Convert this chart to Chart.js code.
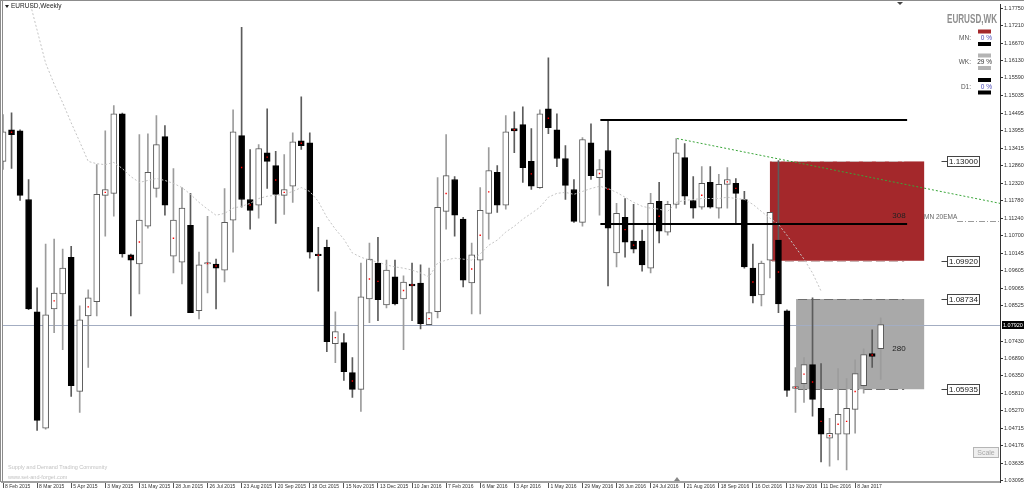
<!DOCTYPE html>
<html><head><meta charset="utf-8">
<script src="https://cdn.jsdelivr.net/npm/chart.js@4.4.1/dist/chart.umd.min.js"></script>
<style>html,body{margin:0;padding:0;background:#fff;overflow:hidden}#wrap{position:relative;width:1024px;height:494px}</style>
</head><body><div id="wrap"><canvas id="c"></canvas></div>
<script>
// ---- data (weekly EURUSD, bar index 0 = week of 8 Feb 2015) ----
const dateLabels = ['8 Feb 2015','8 Mar 2015','5 Apr 2015','3 May 2015','31 May 2015','28 Jun 2015','26 Jul 2015','23 Aug 2015','20 Sep 2015','18 Oct 2015','15 Nov 2015','13 Dec 2015','10 Jan 2016','7 Feb 2016','6 Mar 2016','3 Apr 2016','1 May 2016','29 May 2016','26 Jun 2016','24 Jul 2016','21 Aug 2016','18 Sep 2016','16 Oct 2016','13 Nov 2016','11 Dec 2016','8 Jan 2017'];
const open  = [1.1300,1.1398,1.1395,1.1182,1.0834,1.0473,1.0843,1.0889,1.1003,1.0587,1.0821,1.0865,1.1195,1.1201,1.1448,1.1010,1.0982,1.1099,1.1216,1.1377,1.1006,1.0988,1.1102,1.0837,1.0982,1.0982,1.0963,1.1118,1.1380,1.1182,1.1164,1.1327,1.1287,1.1195,1.1223,1.1364,1.1358,1.1010,1.1034,1.0735,1.0738,1.0645,1.0593,1.0874,1.0985,1.0855,1.0942,1.0874,1.0920,1.0923,1.0794,1.0834,1.1145,1.1244,1.1121,1.0923,1.0994,1.1139,1.1266,1.1164,1.1402,1.1414,1.1300,1.1219,1.1463,1.1398,1.1309,1.1213,1.1111,1.1358,1.1250,1.1334,1.1016,1.1127,1.1053,1.1053,1.0969,1.1176,1.1081,1.1167,1.1312,1.1179,1.1158,1.1235,1.1155,1.1229,1.1232,1.1182,1.0969,1.0886,1.0994,1.1056,1.0837,1.0596,1.0611,1.0670,1.0534,1.0442,1.0454,1.0454,1.0531,1.0605,1.0704,1.0719];
const high  = [1.1445,1.1451,1.1398,1.1244,1.0908,1.1044,1.1059,1.1028,1.1037,1.0852,1.0902,1.1290,1.1395,1.1473,1.1450,1.1013,1.1383,1.1386,1.1442,1.1411,1.1278,1.1219,1.1201,1.1019,1.1130,1.0997,1.1216,1.1460,1.1716,1.1337,1.1352,1.1463,1.1331,1.1321,1.1389,1.1500,1.1389,1.1096,1.1056,1.0834,1.0766,1.0692,1.0985,1.1047,1.1065,1.0994,1.0994,1.0945,1.0985,1.0979,1.0969,1.1250,1.1383,1.1253,1.1127,1.1047,1.1219,1.1343,1.1287,1.1442,1.1454,1.1469,1.1402,1.1460,1.1621,1.1448,1.1349,1.1244,1.1374,1.1417,1.1306,1.1429,1.1170,1.1185,1.1167,1.1087,1.1201,1.1235,1.1176,1.1371,1.1355,1.1253,1.1284,1.1284,1.1260,1.1281,1.1247,1.1207,1.1044,1.0991,1.1142,1.1303,1.0840,1.0661,1.0692,1.0877,1.0673,1.0503,1.0658,1.0627,1.0685,1.0719,1.0778,1.0815];
const low   = [1.1275,1.1278,1.1179,1.0840,1.0466,1.0470,1.0769,1.0716,1.0571,1.0522,1.0661,1.0821,1.1068,1.1130,1.1003,1.0821,1.0889,1.1093,1.1189,1.1133,1.0954,1.0920,1.0831,1.0812,1.0892,1.0843,1.0926,1.1019,1.1158,1.1090,1.1124,1.1216,1.1108,1.1136,1.1173,1.1337,1.1000,1.0898,1.0710,1.0676,1.0621,1.0568,1.0525,1.0800,1.0806,1.0846,1.0855,1.0716,1.0806,1.0781,1.0794,1.0815,1.1090,1.1068,1.0911,1.0827,1.0827,1.1059,1.1142,1.1152,1.1327,1.1235,1.1213,1.1216,1.1386,1.1284,1.1182,1.1111,1.1099,1.1244,1.1133,1.0914,1.0973,1.1003,1.1016,1.0960,1.0954,1.1047,1.1071,1.1155,1.1167,1.1124,1.1152,1.1155,1.1124,1.1155,1.1105,1.0969,1.0861,1.0852,1.0939,1.0831,1.0571,1.0522,1.0553,1.0510,1.0368,1.0355,1.0374,1.0343,1.0457,1.0581,1.0661,1.0624];
const close = [1.1392,1.1383,1.1195,1.0843,1.0497,1.0824,1.0892,1.0969,1.0605,1.0809,1.0877,1.1198,1.1213,1.1448,1.1013,1.0994,1.1118,1.1266,1.1352,1.1164,1.1118,1.1155,1.0831,1.0979,1.0985,1.0969,1.1111,1.1392,1.1182,1.1148,1.1340,1.1300,1.1198,1.1213,1.1361,1.1349,1.1019,1.1008,1.0741,1.0772,1.0648,1.0593,1.0880,1.0997,1.0871,1.0963,1.0858,1.0926,1.0914,1.0797,1.0831,1.1158,1.1256,1.1133,1.0932,1.1010,1.1148,1.1272,1.1164,1.1392,1.1395,1.1281,1.1223,1.1448,1.1405,1.1309,1.1226,1.1114,1.1368,1.1256,1.1275,1.1093,1.1139,1.1050,1.1028,1.0979,1.1170,1.1084,1.1167,1.1327,1.1192,1.1155,1.1232,1.1158,1.1229,1.1244,1.1201,1.0973,1.0883,1.0985,1.1142,1.0858,1.0590,1.0602,1.0670,1.0562,1.0454,1.0457,1.0516,1.0534,1.0642,1.0701,1.0695,1.0794];
const ema20 = [1.2133,1.2025,1.1917,1.1809,1.1707,1.1605,1.1540,1.1482,1.1420,1.1361,1.1300,1.1293,1.1290,1.1297,1.1278,1.1253,1.1235,1.1241,1.1247,1.1241,1.1232,1.1219,1.1198,1.1173,1.1152,1.1133,1.1139,1.1155,1.1161,1.1170,1.1185,1.1192,1.1195,1.1198,1.1207,1.1219,1.1207,1.1176,1.1127,1.1090,1.1059,1.1016,1.1003,1.0994,1.0988,1.0979,1.0973,1.0969,1.0963,1.0954,1.0942,1.0985,1.0994,1.1000,1.0997,1.0994,1.1013,1.1040,1.1056,1.1081,1.1099,1.1121,1.1139,1.1158,1.1189,1.1201,1.1204,1.1198,1.1207,1.1216,1.1223,1.1216,1.1204,1.1189,1.1173,1.1161,1.1155,1.1152,1.1145,1.1173,1.1179,1.1182,1.1185,1.1185,1.1185,1.1189,1.1185,1.1182,1.1167,1.1145,1.1124,1.1105,1.1071,1.1034,1.0997,1.0954,1.0898];
const markBars = [1,6,10,12,15,16,20,24,25,28,29,31,32,33,35,37,39,41,43,44,47,48,50,52,55,56,57,60,62,64,70,71,73,74,77,82,85,86,88,91,93,94,95,96,97,98,99,100,102];
const priceTicks = [1.17750,1.17210,1.16670,1.16130,1.15590,1.15035,1.14495,1.13955,1.13415,1.12860,1.12320,1.11780,1.11240,1.10700,1.10145,1.09605,1.09065,1.08525,1.07430,1.06890,1.06350,1.05810,1.05270,1.04715,1.04176,1.03635,1.03095];
const zoneStart  = [90.0, 93.07];
const zoneEnd    = [108.1, 108.1];
const zoneTop    = [1.13000, 1.08734];
const zoneBottom = [1.09920, 1.05935];
const zoneNotes  = ['308', '280'];
const levelPrices = [1.1429, 1.1105];
const levelFrom = 70.1, levelTo = 106.1;
const trendFrom = [79.1, 1.1371], trendTo = [117.0, 1.1170];
const emaLevel = 1.1114;
const currentPrice = 1.07920;
const legendRows = ['MN:', 'WK:', 'D1:'];
const legendPct  = ['0 %', '29 %', '0 %'];

// ---- chart ----
const X_MIN = -0.12, X_MAX = 117.0, Y_MIN = 1.03059, Y_MAX = 1.17873;
const idx = open.map((_, i) => i);
const bull = i => close[i] >= open[i];
const FONT = 'Liberation Sans, Arial, sans-serif';

const overlay = {
  id: 'overlay',
  beforeDatasetsDraw(chart) {
    const {ctx, chartArea: a, scales: {x, y}} = chart;
    ctx.save();
    ctx.beginPath(); ctx.rect(a.left, a.top, a.right - a.left, a.bottom - a.top); ctx.clip();
    zoneTop.forEach((t, k) => {
      const x0 = x.getPixelForValue(zoneStart[k]), x1 = x.getPixelForValue(zoneEnd[k]);
      const y0 = y.getPixelForValue(t), y1 = y.getPixelForValue(zoneBottom[k]);
      ctx.fillStyle = k === 0 ? '#a4282b' : '#a9a9a9';
      ctx.fillRect(x0, y0, x1 - x0, y1 - y0);
      ctx.strokeStyle = k === 0 ? '#c9b5b5' : '#6e6e6e';
      ctx.lineWidth = 1; ctx.setLineDash([9, 4]);
      [y0, y1].forEach(yy => { ctx.beginPath(); ctx.moveTo(x0 + 2, Math.round(yy) + 0.5); ctx.lineTo(x1 - 20, Math.round(yy) + 0.5); ctx.stroke(); });
      ctx.setLineDash([]);
    });
    // current price line
    const cp = Math.round(y.getPixelForValue(currentPrice)) + 0.5;
    ctx.strokeStyle = '#a3adc2'; ctx.lineWidth = 1;
    ctx.beginPath(); ctx.moveTo(a.left, cp); ctx.lineTo(a.right, cp); ctx.stroke();
    ctx.restore();
  },
  afterDatasetsDraw(chart) {
    const {ctx, chartArea: a, scales: {x, y}} = chart;
    ctx.save();
    ctx.beginPath(); ctx.rect(a.left, a.top, a.right - a.left, a.bottom - a.top); ctx.clip();
    // horizontal levels
    ctx.strokeStyle = '#000'; ctx.lineWidth = 2;
    levelPrices.forEach(p => {
      const yy = Math.round(y.getPixelForValue(p));
      ctx.beginPath(); ctx.moveTo(x.getPixelForValue(levelFrom), yy); ctx.lineTo(x.getPixelForValue(levelTo), yy); ctx.stroke();
    });
    // trend line
    ctx.strokeStyle = '#3aa53a'; ctx.lineWidth = 1; ctx.setLineDash([2, 2]);
    ctx.beginPath(); ctx.moveTo(x.getPixelForValue(trendFrom[0]), y.getPixelForValue(trendFrom[1]));
    ctx.lineTo(x.getPixelForValue(trendTo[0]), y.getPixelForValue(trendTo[1])); ctx.stroke();
    // MN 20EMA marker
    const ey = Math.round(y.getPixelForValue(emaLevel)) + 0.5;
    ctx.strokeStyle = '#9a9a9a'; ctx.setLineDash([6, 2, 1, 2]);
    ctx.beginPath(); ctx.moveTo(957, ey); ctx.lineTo(a.right, ey); ctx.stroke();
    ctx.setLineDash([]);
    ctx.fillStyle = '#666'; ctx.font = '6.5px ' + FONT; ctx.textBaseline = 'middle'; ctx.textAlign = 'left';
    ctx.fillText('MN 20EMA', 924, ey - 4);
    // zone notes
    ctx.fillStyle = '#222'; ctx.font = '8px ' + FONT; ctx.textAlign = 'center';
    ctx.fillText(zoneNotes[0], 899, y.getPixelForValue(1.1130));
    ctx.fillText(zoneNotes[1], 899, y.getPixelForValue(1.0719));
    // zone price labels
    const lab = [zoneTop[0], zoneBottom[0], zoneTop[1], zoneBottom[1]];
    lab.forEach(p => {
      const yy = Math.round(y.getPixelForValue(p)) + 0.5;
      ctx.strokeStyle = '#444'; ctx.lineWidth = 1;
      ctx.beginPath(); ctx.moveTo(941.5, yy); ctx.lineTo(947.5, yy); ctx.stroke();
      ctx.fillStyle = '#fff'; ctx.fillRect(947.5, yy - 5, 32, 10);
      ctx.strokeRect(947.5, yy - 5, 32, 10);
      ctx.fillStyle = '#222'; ctx.font = '8px ' + FONT; ctx.textAlign = 'left'; ctx.textBaseline = 'middle';
      ctx.fillText(p.toFixed(5), 949, yy + 0.5);
    });
    ctx.restore();
  },
  afterDraw(chart) {
    const {ctx, chartArea: a, scales: {y}} = chart;
    ctx.save();
    // frame
    ctx.strokeStyle = '#8c8c8c'; ctx.lineWidth = 1;
    ctx.beginPath(); ctx.moveTo(0, 0.5); ctx.lineTo(1024, 0.5); ctx.stroke();
    ctx.beginPath(); ctx.moveTo(0.5, 0); ctx.lineTo(0.5, a.bottom); ctx.stroke();
    ctx.beginPath(); ctx.moveTo(2.5, 0); ctx.lineTo(2.5, a.bottom); ctx.stroke();
    // header
    ctx.fillStyle = '#222';
    ctx.beginPath(); ctx.moveTo(5, 5); ctx.lineTo(9, 5); ctx.lineTo(7, 8); ctx.closePath(); ctx.fill();
    ctx.font = '6.5px ' + FONT; ctx.textBaseline = 'middle'; ctx.textAlign = 'left';
    ctx.fillText('EURUSD,Weekly', 11, 6.5);
    // marker triangles
    ctx.fillStyle = '#444';
    ctx.beginPath(); ctx.moveTo(897, 2); ctx.lineTo(903, 2); ctx.lineTo(900, 5); ctx.closePath(); ctx.fill();
    ctx.fillStyle = '#888';
    ctx.beginPath(); ctx.moveTo(674, 481); ctx.lineTo(680, 481); ctx.lineTo(677, 477); ctx.closePath(); ctx.fill();
    // symbol title
    ctx.font = 'bold 13px ' + FONT; ctx.textBaseline = 'alphabetic';
    const t = 'EURUSD,WK', w = ctx.measureText(t).width;
    ctx.save(); ctx.translate(947, 23); ctx.scale(50 / w, 1);
    ctx.fillStyle = '#8e8e8e'; ctx.fillText(t, 0, 0); ctx.restore();
    // legend
    const rowY = [29.5, 53.5, 78];
    const barCol = [['#a4282b', '#000'], ['#b4b4b4', '#b4b4b4'], ['#000', '#000']];
    rowY.forEach((r, k) => {
      ctx.fillStyle = barCol[k][0]; ctx.fillRect(978, r, 13, 4);
      ctx.fillStyle = barCol[k][1]; ctx.fillRect(978, r + 12.5, 13, 4);
      ctx.font = '6.5px ' + FONT; ctx.textBaseline = 'middle';
      ctx.fillStyle = '#555'; ctx.textAlign = 'right'; ctx.fillText(legendRows[k], 971, r + 9);
      ctx.fillStyle = k === 1 ? '#333' : '#4a48b8'; ctx.textAlign = 'right'; ctx.fillText(legendPct[k], 992, r + 9);
    });
    // watermark
    ctx.fillStyle = '#c2c2c2'; ctx.font = '5.5px ' + FONT; ctx.textAlign = 'left';
    ctx.fillText('Supply and Demand Trading Community', 8, 467);
    ctx.fillText('www.set-and-forget.com', 8, 477);
    // scale button
    ctx.fillStyle = '#efefef'; ctx.fillRect(973.5, 447.5, 25, 10);
    ctx.strokeStyle = '#b5b5b5'; ctx.strokeRect(973.5, 447.5, 25, 10);
    ctx.fillStyle = '#a8a8a8'; ctx.font = '7px ' + FONT; ctx.textAlign = 'center'; ctx.fillText('Scale', 986, 453);
    // current price tag
    const cp = Math.round(y.getPixelForValue(currentPrice));
    ctx.fillStyle = '#000'; ctx.fillRect(a.right + 2, cp - 4, 22, 8);
    ctx.fillStyle = '#fff'; ctx.font = '5.5px ' + FONT; ctx.textAlign = 'left'; ctx.fillText(currentPrice.toFixed(5), a.right + 3, cp + 0.5);
    ctx.restore();
  }
};

new Chart(document.getElementById('c'), {
  type: 'bar',
  data: {
    datasets: [
      { type: 'line', label: 'marks', data: markBars.map(i => ({x: i, y: (open[i] + close[i]) / 2})),
        showLine: false, pointRadius: 1, pointStyle: 'rect', backgroundColor: '#ff0000', borderColor: '#ff0000', borderWidth: 0, order: 0 },
      { type: 'line', label: 'MN 20EMA', data: ema20.map((v, i) => ({x: i, y: v})),
        borderColor: '#c4c4c4', borderWidth: 1, borderDash: [2, 2], pointRadius: 0, fill: false, tension: 0, order: 1 },
      { type: 'bar', label: 'body', data: idx.map(i => ({x: i, y: [open[i], close[i]]})),
        barThickness: 6, minBarLength: 1.5, grouped: false, borderSkipped: false, borderWidth: 1,
        backgroundColor: c => bull(c.dataIndex) ? '#ffffff' : '#000000',
        borderColor: c => bull(c.dataIndex) ? '#5a5a5a' : '#000000', order: 2 },
      { type: 'bar', label: 'wick', data: idx.map(i => ({x: i, y: [low[i], high[i]]})),
        barThickness: 1, grouped: false, borderWidth: 0,
        backgroundColor: c => bull(c.dataIndex) ? '#9c9c9c' : '#5c5c5c', order: 3 }
    ]
  },
  options: {
    responsive: true, maintainAspectRatio: false, animation: false, devicePixelRatio: 1,
    layout: { padding: { left: 2, top: 2, right: 0, bottom: 0 }, autoPadding: false },
    plugins: { legend: { display: false }, tooltip: { enabled: false } },
    scales: {
      x: { type: 'linear', min: X_MIN, max: X_MAX, offset: false,
        afterBuildTicks: s => { s.ticks = dateLabels.map((_, k) => ({value: k * 4})); },
        afterFit: s => { s.height = 12; },
        grid: { drawOnChartArea: false, drawTicks: true, tickLength: 6, color: '#555', offset: false },
        border: { color: '#a0a0a0', width: 2 },
        ticks: { autoSkip: false, maxRotation: 0, minRotation: 0, align: 'start', labelOffset: 2, padding: -4,
          font: { size: 5, family: FONT }, color: '#333',
          callback: v => dateLabels[Math.round(v / 4)] ?? '' } },
      y: { type: 'linear', position: 'right', min: Y_MIN, max: Y_MAX, beginAtZero: false,
        afterBuildTicks: s => { s.ticks = priceTicks.map(v => ({value: v})); },
        afterFit: s => { s.width = 24; },
        grid: { drawOnChartArea: false, drawTicks: true, tickLength: 3, color: '#333' },
        border: { color: '#333', width: 1 },
        ticks: { padding: 1, font: { size: 5.5, family: FONT }, color: '#333', callback: v => Number(v).toFixed(5) } }
    }
  },
  plugins: [overlay]
});
</script>
</body></html>
